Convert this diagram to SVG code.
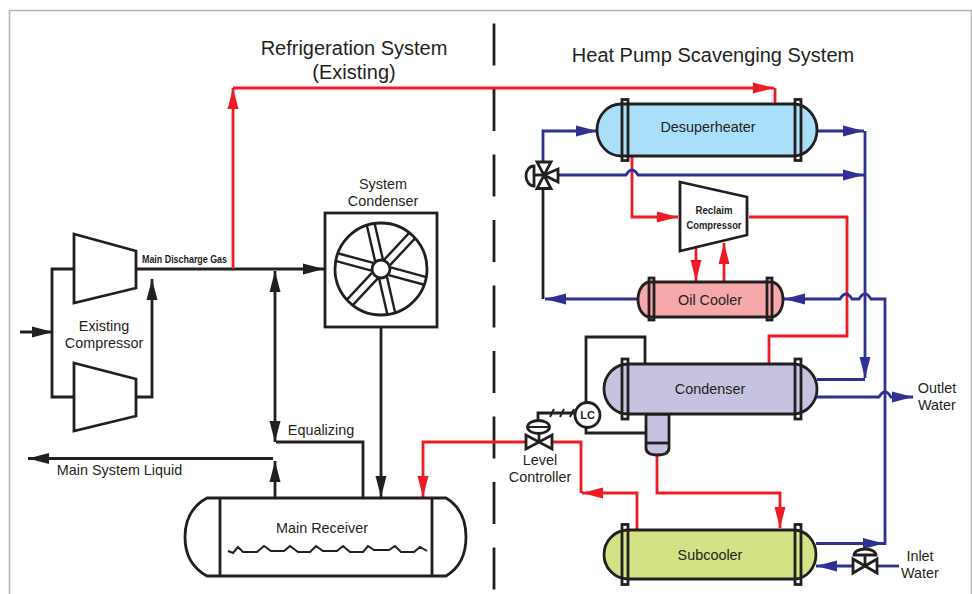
<svg xmlns="http://www.w3.org/2000/svg" width="972" height="594" viewBox="0 0 972 594">
<style>
text{font-family:"Liberation Sans",Arial,sans-serif;fill:#231f20;text-anchor:middle}
.t{font-size:14.4px}.h{font-size:20px}.b{font-size:11.5px;font-weight:bold}
.k,.r,.u{fill:none;stroke-width:2.800;stroke-linejoin:miter}
.k{stroke:#231f20}.r{stroke:#ed1c24}.u{stroke:#2e3192}
</style>
<defs>
<marker id="ak" markerUnits="userSpaceOnUse" markerWidth="22" markerHeight="14" refX="21" refY="7" orient="auto-start-reverse"><path d="M0,1.500L21,7L0,12.500Z" fill="#231f20"/></marker>
<marker id="ar" markerUnits="userSpaceOnUse" markerWidth="22" markerHeight="14" refX="21" refY="7" orient="auto-start-reverse"><path d="M0,1.500L21,7L0,12.500Z" fill="#ed1c24"/></marker>
<marker id="au" markerUnits="userSpaceOnUse" markerWidth="22" markerHeight="14" refX="21" refY="7" orient="auto-start-reverse"><path d="M0,1.500L21,7L0,12.500Z" fill="#2e3192"/></marker>
</defs>
<rect width="972" height="594" fill="#fff"/>
<path d="M9.500,594V10.500H971.500V594" fill="none" stroke="#b3b3b3" stroke-width="1.500"/>
<path d="M494,23.500V590" fill="none" stroke="#231f20" stroke-width="2.800" stroke-dasharray="42,23.500"/>
<g id="connectors">
<path class="k" d="M74,269H52V397H74"/>
<path class="k" d="M20,332H53" marker-end="url(#ak)"/>
<path class="k" d="M136,397H152V279" marker-end="url(#ak)"/>
<path class="k" d="M136,269H324" marker-end="url(#ak)"/>
<path class="k" d="M275,271V442" marker-start="url(#ak)" marker-end="url(#ak)"/>
<path class="k" d="M276,442H363V498"/>
<path class="k" d="M273,458.500H28" marker-end="url(#ak)"/>
<path class="k" d="M275,498V461" marker-end="url(#ak)"/>
<path class="k" d="M381,327V497" marker-end="url(#ak)"/>
<path class="r" d="M233,269V88"  marker-end="url(#ar)"/>
<path class="r" d="M233,88H774" marker-end="url(#ar)"/>
<path class="r" d="M775,88V104"/>
<path class="r" d="M526,442H423V497" marker-end="url(#ar)"/>
<path class="r" d="M632,156V217H678" marker-end="url(#ar)"/>
<path class="r" d="M749,217H847V336H769V364"/>
<path class="r" d="M696,248V281" marker-end="url(#ar)"/>
<path class="r" d="M724,282V243" marker-end="url(#ar)"/>
<path class="r" d="M552,442H581V493"/>
<path class="r" d="M637,530V493H582" marker-end="url(#ar)"/>
<path class="r" d="M657,455V493H780V528" marker-end="url(#ar)"/>
<path class="u" d="M543,162V131H597" marker-end="url(#au)"/>
<path class="u" d="M817,131H864" marker-end="url(#au)"/>
<path class="u" d="M558,175H626Q629,170 632,170Q635,170 638,175H864" marker-end="url(#au)"/>
<path class="u" d="M865,131V378" marker-end="url(#au)"/>
<path class="u" d="M817,379.500H865"/>
<path class="k" d="M543,188V299"/>
<path class="u" d="M638,299H545" marker-end="url(#au)"/>
<path class="u" d="M885,545V299H871Q868,294 865,294Q862,294 859,299H852Q849,294 846,294Q843,294 840,299H784" marker-end="url(#au)"/>
<path class="u" d="M816,543.500H884" marker-end="url(#au)"/>
<path class="u" d="M816,397H879Q882,392 885,392Q888,392 891,397H913" marker-end="url(#au)"/>
<path class="u" d="M877,566H899"/>
<path class="u" d="M853,566H816" marker-end="url(#au)"/>
<path class="k" d="M586,402V337H645V364"/>
<path class="k" d="M586,428V433H646"/>
<path class="k" d="M575,413H538V420"/>
<path class="k" style="stroke-width:2" d="M550,417L554,409M560,417L564,409M570,417L574,409"/>
</g>
<g id="existing-compressor-top"><path class="k" d="M74,234L136,251V288L74,303Z"/></g>
<g id="existing-compressor-bottom"><path class="k" d="M74,363L136,379V416L74,431Z"/></g>
<g id="system-condenser">
<rect class="k" x="325" y="213" width="112" height="114"/>
<circle class="k" cx="381" cy="269" r="46"/>
<g fill="none" stroke="#231f20" stroke-width="2.400">
<path d="M390,265H427M390,273H427" transform="rotate(15 381 269)"/>
<path d="M390,265H427M390,273H427" transform="rotate(77 381 269)"/>
<path d="M390,265H427M390,273H427" transform="rotate(133 381 269)"/>
<path d="M390,265H427M390,273H427" transform="rotate(195 381 269)"/>
<path d="M390,265H427M390,273H427" transform="rotate(257 381 269)"/>
<path d="M390,265H427M390,273H427" transform="rotate(313 381 269)"/>
</g>
<circle class="k" cx="381" cy="269" r="9"/>
</g>
<g id="main-receiver">
<path class="k" d="M207,498Q185,510 185,537Q185,564 207,576H446Q466,564 466,537Q466,510 446,498Z"/>
<path class="k" d="M220,498V576M432,498V576"/>
<path class="k" style="stroke-width:2" d="M228,551L233,553L238,547L243,552H257L264,546L271,551H284L290,546L298,552H310L316,546L323,551H337L343,546L350,552H363L368,546L374,550H389L395,546L401,552H414L420,547L427,551"/>
</g>
<g id="desuperheater">
<path class="k" d="M621,104H794A24,26 0 0 1 817,130A24,26 0 0 1 794,156H621A24,26 0 0 1 597,130A24,26 0 0 1 621,104Z" style="fill:#a9dff9"/>
<rect class="k" x="622" y="99.500" width="6" height="61"/><rect class="k" x="795" y="99.500" width="6" height="61"/>
</g>
<g id="reclaim-compressor"><path class="k" d="M680,182L747,197V235L680,251Z" style="fill:#fff"/></g>
<g id="oil-cooler">
<path class="k" d="M650,282H771A12,17.500 0 0 1 783,299.500A12,17.500 0 0 1 771,317H650A12,17.500 0 0 1 638,299.500A12,17.500 0 0 1 650,282Z" style="fill:#f6a8ab"/>
<rect class="k" x="649" y="278" width="5" height="42"/><rect class="k" x="767" y="278" width="5" height="42"/>
</g>
<g id="condenser">
<path class="k" d="M646,414V448Q646,455 657.500,455Q669,455 669,448V414Z" style="fill:#c5c3e0"/>
<path class="k" d="M646,443H669"/>
<path class="k" d="M628,364H794A24,25 0 0 1 817,389A24,25 0 0 1 794,414H628A24,25 0 0 1 604,389A24,25 0 0 1 628,364Z" style="fill:#c5c3e0"/>
<rect class="k" x="622" y="359" width="6" height="60"/><rect class="k" x="795" y="359" width="6" height="60"/>
</g>
<g id="subcooler">
<path class="k" d="M628,530H794A22,24.500 0 0 1 816,554.500A22,24.500 0 0 1 794,579H628A24,24.500 0 0 1 604,554.500A24,24.500 0 0 1 628,530Z" style="fill:#d2e284"/>
<rect class="k" x="622" y="524.500" width="6" height="60"/><rect class="k" x="795" y="524.500" width="6" height="60"/>
</g>
<g id="three-way-valve">
<path class="k" style="fill:#fff" d="M537,162H551L537,188.500H551Z"/>
<path class="k" style="fill:#fff" d="M544,175L558,169V182Z"/>
<path class="k" d="M544,175H533"/>
<path class="k" style="fill:#fff" d="M534,166A8,10 0 0 0 534,186Z"/>
</g>
<g id="lc"><circle class="k" style="fill:#fff" cx="587.500" cy="415" r="12.500"/><text x="587.500" y="419" style="font-size:11px;font-weight:bold">LC</text></g>
<g id="level-valve">
<path class="k" style="fill:#fff" d="M526,435V449L552,435V449Z"/>
<path class="k" d="M539,442V433"/>
<ellipse class="k" style="fill:#fff" cx="538.500" cy="427" rx="11" ry="6.500"/><path class="k" style="stroke-width:2" d="M528,427H549"/>
</g>
<g id="inlet-valve">
<path class="k" style="fill:#fff" d="M853,559V573L877,559V573Z"/>
<path class="k" d="M865,566V554"/>
<path class="k" style="fill:#fff" d="M854,555A11,6 0 0 1 876,555Z"/>
</g>
<g id="labels">
<text class="h" x="354" y="55">Refrigeration System</text>
<text class="h" x="354" y="79">(Existing)</text>
<text class="h" x="713" y="62">Heat Pump Scavenging System</text>
<text class="t" x="383" y="189">System</text>
<text class="t" x="383" y="206">Condenser</text>
<text class="b" x="184.500" y="263" textLength="85" lengthAdjust="spacingAndGlyphs">Main Discharge Gas</text>
<text class="t" x="104" y="331">Existing</text>
<text class="t" x="104" y="348">Compressor</text>
<text class="t" x="321" y="435">Equalizing</text>
<text class="t" x="119.500" y="475">Main System Liquid</text>
<text class="t" x="322" y="533">Main Receiver</text>
<text class="t" x="708" y="132">Desuperheater</text>
<text class="b" x="714" y="214" textLength="37" lengthAdjust="spacingAndGlyphs">Reclaim</text>
<text class="b" x="714" y="229" textLength="55" lengthAdjust="spacingAndGlyphs">Compressor</text>
<text class="t" x="710" y="305">Oil Cooler</text>
<text class="t" x="710" y="394">Condenser</text>
<text class="t" x="540" y="465">Level</text>
<text class="t" x="540" y="482">Controller</text>
<text class="t" x="710" y="560">Subcooler</text>
<text class="t" x="937" y="393">Outlet</text>
<text class="t" x="937" y="410">Water</text>
<text class="t" x="920" y="561">Inlet</text>
<text class="t" x="920" y="578">Water</text>
</g>
</svg>
